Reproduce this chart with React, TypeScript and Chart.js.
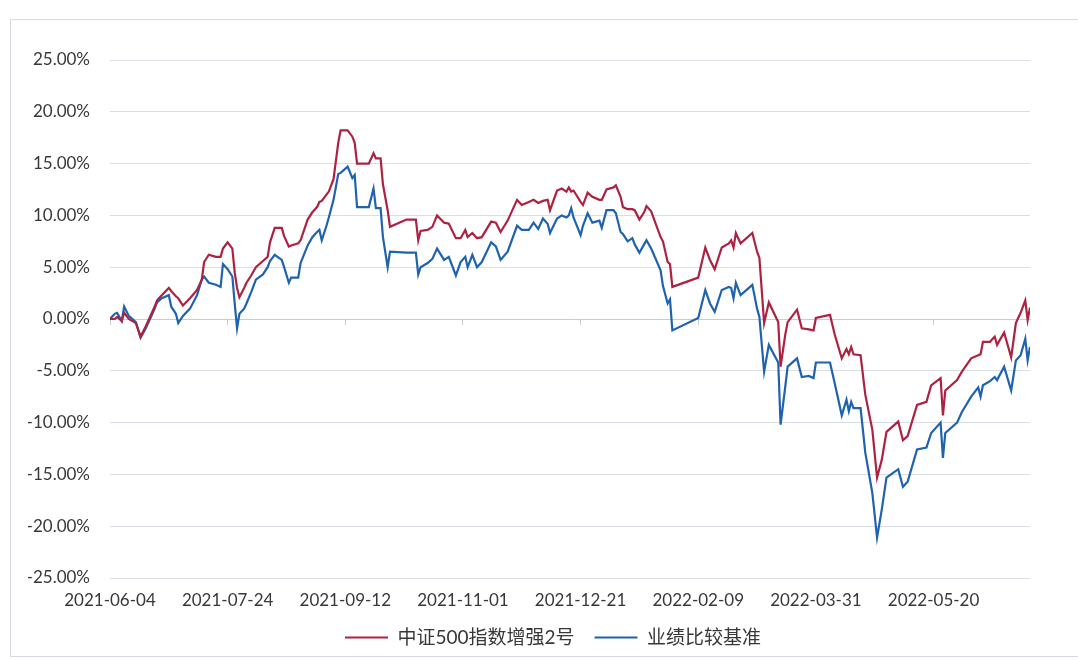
import React, { useEffect, useRef } from "react";
import { Chart, registerables } from "chart.js";

Chart.register(...registerables);

const dates: string[] = [
  "2021-06-04","2021-06-06","2021-06-07","2021-06-09","2021-06-10","2021-06-12","2021-06-15","2021-06-17","2021-06-19","2021-06-21",
  "2021-06-23","2021-06-24","2021-06-26","2021-06-29","2021-06-30","2021-07-02","2021-07-03","2021-07-05","2021-07-08","2021-07-11",
  "2021-07-13","2021-07-14","2021-07-16","2021-07-19","2021-07-21","2021-07-22","2021-07-24","2021-07-26","2021-07-27","2021-07-28",
  "2021-07-29","2021-07-31","2021-08-01","2021-08-03","2021-08-05","2021-08-08","2021-08-10","2021-08-11","2021-08-13","2021-08-16",
  "2021-08-17","2021-08-19","2021-08-20","2021-08-23","2021-08-24","2021-08-27","2021-08-29","2021-08-31","2021-09-01","2021-09-02",
  "2021-09-04","2021-09-05","2021-09-07","2021-09-09","2021-09-10","2021-09-13","2021-09-15","2021-09-16","2021-09-17","2021-09-22",
  "2021-09-24","2021-09-25","2021-09-27","2021-09-28","2021-09-30","2021-10-01","2021-10-08","2021-10-12","2021-10-13","2021-10-14",
  "2021-10-17","2021-10-19","2021-10-21","2021-10-24","2021-10-26","2021-10-29","2021-10-31","2021-11-02","2021-11-03","2021-11-05",
  "2021-11-07","2021-11-09","2021-11-13","2021-11-15","2021-11-17","2021-11-20","2021-11-24","2021-11-26","2021-11-29","2021-12-01",
  "2021-12-03","2021-12-05","2021-12-07","2021-12-08","2021-12-11","2021-12-13","2021-12-15","2021-12-16","2021-12-17","2021-12-18",
  "2021-12-21","2021-12-22","2021-12-24","2021-12-26","2021-12-29","2021-12-30","2022-01-01","2022-01-04","2022-01-05","2022-01-07",
  "2022-01-08","2022-01-10","2022-01-12","2022-01-13","2022-01-15","2022-01-17","2022-01-18","2022-01-20","2022-01-24","2022-01-25",
  "2022-01-27","2022-01-28","2022-01-29","2022-02-09","2022-02-12","2022-02-14","2022-02-16","2022-02-19","2022-02-22","2022-02-23",
  "2022-02-24","2022-02-25","2022-02-27","2022-03-04","2022-03-06","2022-03-07","2022-03-09","2022-03-11","2022-03-15","2022-03-16",
  "2022-03-18","2022-03-19","2022-03-23","2022-03-25","2022-03-28","2022-03-30","2022-03-31","2022-04-06","2022-04-08","2022-04-11",
  "2022-04-13","2022-04-14","2022-04-15","2022-04-16","2022-04-19","2022-04-21","2022-04-24","2022-04-26","2022-04-28","2022-04-30",
  "2022-05-05","2022-05-07","2022-05-09","2022-05-13","2022-05-17","2022-05-19","2022-05-23","2022-05-24","2022-05-25","2022-05-30",
  "2022-06-01","2022-06-05","2022-06-08","2022-06-09","2022-06-10","2022-06-13","2022-06-15","2022-06-16","2022-06-19","2022-06-22",
  "2022-06-24","2022-06-26","2022-06-28","2022-06-29","2022-06-30",
];

const fundValues: number[] = [
  0.0, 0.0, 0.2, -0.2, 0.6, 0.0, -0.4, -1.7, -0.8, 0.2,
  1.2, 1.8, 2.3, 3.0, 2.7, 2.2, 2.0, 1.3, 2.0, 2.8,
  3.8, 5.5, 6.2, 6.0, 6.0, 6.8, 7.4, 6.8, 4.5, 3.0,
  2.1, 3.0, 3.5, 4.2, 5.0, 5.6, 6.0, 7.4, 8.8, 8.8,
  8.0, 7.0, 7.1, 7.3, 7.6, 9.6, 10.3, 10.8, 11.3, 11.4,
  12.0, 12.3, 13.5, 17.0, 18.2, 18.2, 17.6, 17.0, 15.0, 15.0,
  16.0, 15.5, 15.5, 13.0, 10.5, 8.9, 9.6, 9.6, 7.6, 8.5,
  8.6, 8.9, 10.0, 9.3, 9.2, 7.8, 7.8, 8.6, 7.9, 8.3,
  7.8, 7.9, 9.4, 9.3, 8.4, 9.5, 11.5, 11.0, 11.3, 11.5,
  11.2, 11.4, 11.5, 10.5, 12.4, 12.6, 12.3, 12.7, 12.3, 12.4,
  11.3, 11.0, 12.2, 11.8, 11.5, 11.5, 12.5, 12.7, 12.9, 11.8,
  10.8, 10.6, 10.6, 10.5, 9.6, 10.3, 10.9, 10.4, 7.9, 7.5,
  5.5, 5.3, 3.1, 4.0, 6.9, 5.7, 4.8, 6.9, 7.3, 7.6,
  6.9, 8.3, 7.3, 8.3, 6.5, 5.9, -0.4, 1.6, -0.3, -4.6,
  -1.5, -0.3, 0.9, -0.9, -1.0, -1.1, 0.1, 0.4, -1.5, -3.8,
  -2.9, -3.4, -2.7, -3.4, -3.5, -7.3, -10.7, -15.3, -13.6, -10.9,
  -9.9, -11.7, -11.3, -8.3, -8.0, -6.4, -5.7, -9.3, -6.9, -5.9,
  -5.1, -3.8, -3.5, -3.4, -2.2, -2.2, -1.7, -2.5, -1.3, -3.7,
  -0.4, 0.6, 1.8, -0.1, 1.1,
];

const benchValues: number[] = [
  0.0, 0.5, 0.6, -0.2, 1.2, 0.3, -0.3, -1.8, -1.0, 0.0,
  1.0, 1.6, 2.0, 2.3, 1.2, 0.5, -0.4, 0.3, 1.0, 2.3,
  3.8, 4.1, 3.5, 3.3, 3.1, 5.3, 4.8, 4.1, 1.5, -0.9,
  0.5, 1.0, 1.5, 2.6, 3.8, 4.3, 5.0, 5.6, 6.2, 5.7,
  5.0, 3.5, 4.0, 4.0, 5.4, 7.1, 7.9, 8.4, 8.6, 7.6,
  9.0, 9.8, 11.5, 14.0, 14.1, 14.7, 13.6, 13.9, 10.8, 10.8,
  12.6, 10.7, 10.7, 7.9, 5.0, 6.5, 6.4, 6.4, 4.3, 5.0,
  5.4, 5.8, 6.8, 5.7, 6.0, 4.2, 5.5, 6.0, 5.0, 6.2,
  5.0, 5.5, 7.4, 7.0, 5.7, 6.5, 9.0, 8.6, 8.6, 9.3,
  8.7, 9.7, 9.2, 8.3, 9.7, 10.0, 9.8, 10.0, 10.7, 9.8,
  8.1, 9.0, 10.2, 9.3, 9.5, 8.8, 10.5, 10.5, 10.2, 8.4,
  8.2, 7.5, 7.8, 7.2, 6.4, 7.2, 7.6, 6.8, 4.7, 3.2,
  1.5, 1.9, -1.1, 0.1, 2.8, 1.5, 0.7, 2.8, 3.1, 3.0,
  2.0, 3.5, 2.3, 3.3, 1.0, 0.2, -5.1, -2.5, -4.2, -10.2,
  -6.5, -4.6, -3.8, -5.6, -5.5, -5.7, -4.2, -4.2, -6.2, -9.3,
  -7.8, -8.9, -8.0, -8.6, -8.6, -12.9, -16.8, -21.1, -18.4, -15.3,
  -14.5, -16.2, -15.7, -12.6, -12.4, -11.0, -10.0, -13.4, -11.0, -10.0,
  -9.0, -7.5, -6.6, -7.5, -6.4, -6.0, -5.6, -5.9, -4.6, -6.9,
  -4.0, -3.5, -1.9, -4.0, -2.7,
];

const seriesNames: string[] = ["中证500指数增强2号", "业绩比较基准"];
const startDate = "2021-06-04";
const endDate = "2022-06-30";
const yTicks: number[] = [-25, -20, -15, -10, -5, 0, 5, 10, 15, 20, 25];
const xTickStepDays = 50;

const DAY = 86400000;
const toUTC = (s: string) => {
  const [y, m, d] = s.split("-").map(Number);
  return Date.UTC(y, m - 1, d);
};
const dayOffset = (s: string) => Math.round((toUTC(s) - toUTC(startDate)) / DAY);
const offsetToDate = (v: number) => new Date(toUTC(startDate) + v * DAY).toISOString().slice(0, 10);

const FONT = "Lato, 'Noto Sans CJK SC', sans-serif";
const GRID = "#d9dde6";
const TEXT = "#383838";

export default function App() {
  const ref = useRef<HTMLCanvasElement | null>(null);
  useEffect(() => {
    if (!ref.current) return;
    const maxDay = dayOffset(endDate);
    const chart = new Chart(ref.current, {
      type: "line",
      data: {
        datasets: [
          {
            label: seriesNames[0],
            data: dates.map((d, i) => ({ x: dayOffset(d), y: fundValues[i] })),
            borderColor: "#ad2240",
            backgroundColor: "#ad2240",
            borderWidth: 2.2,
            pointRadius: 0,
            tension: 0,
          },
          {
            label: seriesNames[1],
            data: dates.map((d, i) => ({ x: dayOffset(d), y: benchValues[i] })),
            borderColor: "#1f62ae",
            backgroundColor: "#1f62ae",
            borderWidth: 2.2,
            pointRadius: 0,
            tension: 0,
          },
        ],
      },
      options: {
        animation: false,
        responsive: false,
        maintainAspectRatio: false,
        layout: { padding: { top: 60, left: 28, right: 0, bottom: 4 } },
        plugins: {
          legend: {
            position: "bottom",
            labels: {
              usePointStyle: true,
              pointStyle: "line",
              pointStyleWidth: 43,
              boxHeight: 19,
              padding: 20,
              color: TEXT,
              font: { family: FONT, size: 19 },
            },
          },
          tooltip: { enabled: false },
        },
        scales: {
          x: {
            type: "linear",
            min: 0,
            max: maxDay,
            afterFit: (s: any) => {
              s.height = 30;
            },
            grid: { display: false, drawTicks: false },
            border: { display: false },
            ticks: {
              stepSize: xTickStepDays,
              includeBounds: false,
              autoSkip: false,
              maxRotation: 0,
              padding: 12,
              color: TEXT,
              font: { family: FONT, size: 17 },
              callback: (v: any) => offsetToDate(Number(v)),
            },
          },
          x0: {
            type: "linear",
            position: { y: 0 },
            min: 0,
            max: maxDay,
            grid: { drawOnChartArea: false, drawTicks: true, tickLength: 5, color: "#c8ccd6" },
            border: { display: true, color: "#c8ccd6" },
            ticks: { display: false, stepSize: xTickStepDays, includeBounds: false },
          },
          y: {
            min: yTicks[0],
            max: yTicks[yTicks.length - 1],
            afterFit: (s: any) => {
              s.width = 82;
            },
            afterBuildTicks: (s: any) => {
              s.ticks = yTicks.map((v) => ({ value: v }));
            },
            grid: { color: GRID, lineWidth: 1, drawTicks: false },
            border: { display: false },
            ticks: {
              padding: 20,
              color: TEXT,
              font: { family: FONT, size: 17 },
              callback: (v: any) => Number(v).toFixed(2) + "%",
            },
          },
          yRight: {
            position: "right",
            min: yTicks[0],
            max: yTicks[yTicks.length - 1],
            afterFit: (s: any) => {
              s.width = 48;
            },
            grid: { display: false, drawTicks: false },
            border: { display: false },
            ticks: { display: false },
          },
        },
      } as any,
    });
    return () => chart.destroy();
  }, []);

  return (
    <div style={{ position: "absolute", left: 0, top: 0, width: 1078, height: 661, background: "#fff", overflow: "hidden" }}>
      <div
        style={{
          position: "absolute",
          left: 10,
          top: 19,
          width: 1080,
          height: 638,
          border: "1px solid #d6dae2",
          boxSizing: "border-box",
        }}
      />
      <canvas ref={ref} width={1078} height={661} style={{ position: "absolute", left: 0, top: 0 }} />
    </div>
  );
}
